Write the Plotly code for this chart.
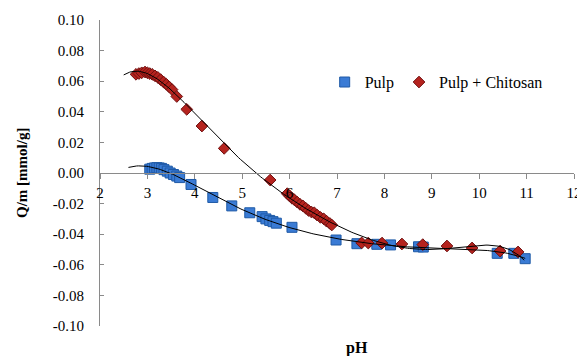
import numpy as np
import plotly.graph_objects as go

# ---- data ----
pulp_ph = [3.05, 3.10, 3.15, 3.20, 3.25, 3.30, 3.35, 3.42, 3.48, 3.55, 3.62, 3.68,
           3.92, 4.38, 4.78, 5.16, 5.42, 5.50, 5.58, 5.65, 5.72, 6.05, 6.98,
           7.42, 7.84, 8.13, 8.72, 8.82, 10.38, 10.73, 10.97]
pulp_q = [0.0025, 0.0030, 0.0033, 0.0035, 0.0033, 0.0030, 0.0022, 0.0012, 0.0000, -0.0010, -0.0020, -0.0030,
          -0.0075, -0.0160, -0.0215, -0.0260, -0.0285, -0.0300, -0.0310, -0.0318, -0.0328, -0.0355, -0.0438,
          -0.0462, -0.0466, -0.0470, -0.0482, -0.0484, -0.0525, -0.0525, -0.0560]

chit_ph = [2.76, 2.82, 2.88, 2.95, 3.00, 3.05, 3.10, 3.16, 3.22, 3.28, 3.34, 3.40, 3.46, 3.52,
           3.62, 3.83, 4.15, 4.62, 5.59,
           5.95, 6.00, 6.05, 6.10, 6.16, 6.22, 6.28, 6.34, 6.40, 6.46, 6.52, 6.58, 6.65, 6.72, 6.78, 6.85, 6.89,
           7.52, 7.66, 7.95, 8.37, 8.81, 9.32, 9.85, 10.44, 10.82]
chit_q = [0.0645, 0.0650, 0.0655, 0.0660, 0.0655, 0.0650, 0.0645, 0.0635, 0.0625, 0.0610, 0.0595, 0.0580, 0.0563, 0.0545,
          0.0500, 0.0416, 0.0307, 0.0161, -0.0046,
          -0.0135, -0.0150, -0.0165, -0.0175, -0.0190, -0.0205, -0.0215, -0.0230, -0.0245, -0.0255, -0.0260, -0.0275, -0.0290, -0.0300, -0.0315, -0.0330, -0.0340,
          -0.0457, -0.0458, -0.0458, -0.0464, -0.0468, -0.0477, -0.0490, -0.0510, -0.0516]

x_tick_vals = [2, 3, 4, 5, 6, 7, 8, 9, 10, 11, 12]
y_tick_vals = [0.10, 0.08, 0.06, 0.04, 0.02, 0.00, -0.02, -0.04, -0.06, -0.08, -0.10]
y_tick_text = ["0.10", "0.08", "0.06", "0.04", "0.02", "0.00", "-0.02", "-0.04", "-0.06", "-0.08", "-0.10"]

# polynomial trendlines (like spreadsheet trendlines), with short backward forecast
pulp_fit = np.polyfit(pulp_ph, pulp_q, 6)
chit_fit = np.polyfit(chit_ph, chit_q, 6)
pulp_xs = np.linspace(2.6, 10.97, 200)
chit_xs = np.linspace(2.5, 10.95, 200)

SERIF = "Times New Roman"

fig = go.Figure()
fig.add_trace(go.Scatter(x=pulp_ph, y=pulp_q, mode="markers", name="Pulp",
                         marker=dict(symbol="square", size=10, color="#3A7BD5",
                                     line=dict(color="#1F5AA6", width=1))))
fig.add_trace(go.Scatter(x=chit_ph, y=chit_q, mode="markers", name="Pulp + Chitosan",
                         marker=dict(symbol="diamond", size=9, color="#B5231E",
                                     line=dict(color="#701010", width=1))))
fig.add_trace(go.Scatter(x=pulp_xs, y=np.polyval(pulp_fit, pulp_xs), mode="lines",
                         line=dict(color="black", width=1), showlegend=False, hoverinfo="skip"))
fig.add_trace(go.Scatter(x=chit_xs, y=np.polyval(chit_fit, chit_xs), mode="lines",
                         line=dict(color="black", width=1), showlegend=False, hoverinfo="skip"))

# the page body has an 8px margin, so the figure is sized/margined to compensate
fig.update_layout(
    width=577, height=348, autosize=False,
    margin=dict(l=92, r=11, t=12, b=30, autoexpand=False),
    paper_bgcolor="white", plot_bgcolor="white",
    font=dict(family=SERIF, color="black", size=15),
    legend=dict(orientation="h", x=0.474, y=0.797, xanchor="left", yanchor="middle",
                font=dict(family=SERIF, size=16, color="black"),
                bgcolor="rgba(0,0,0,0)", itemwidth=30),
    xaxis=dict(range=[2, 12], tickvals=x_tick_vals, anchor="free", position=0.5,
               showline=True, linecolor="#8a8a8a", linewidth=1,
               ticks="outside", ticklen=5, tickcolor="#8a8a8a",
               showgrid=False, zeroline=False, ticklabelstandoff=1, automargin=False,
               tickfont=dict(family=SERIF, size=15, color="black")),
    yaxis=dict(range=[-0.1, 0.1], tickvals=y_tick_vals, ticktext=y_tick_text,
               showline=True, linecolor="#8a8a8a", linewidth=1,
               ticks="inside", ticklen=4, tickcolor="#8a8a8a",
               showgrid=False, zeroline=False, ticklabelstandoff=12, automargin=False,
               tickfont=dict(family=SERIF, size=15, color="black")),
    annotations=[
        dict(text="<b>Q/m [mmol/g]</b>", x=-0.1646, y=0.5, xref="paper", yref="paper",
             textangle=-90, showarrow=False, xanchor="center", yanchor="middle",
             font=dict(family=SERIF, size=15, color="black")),
        dict(text="<b>pH</b>", x=0.542, y=-0.072, xref="paper", yref="paper",
             showarrow=False, xanchor="center", yanchor="middle",
             font=dict(family=SERIF, size=16, color="black")),
    ],
)

fig.write_html("out.html")
